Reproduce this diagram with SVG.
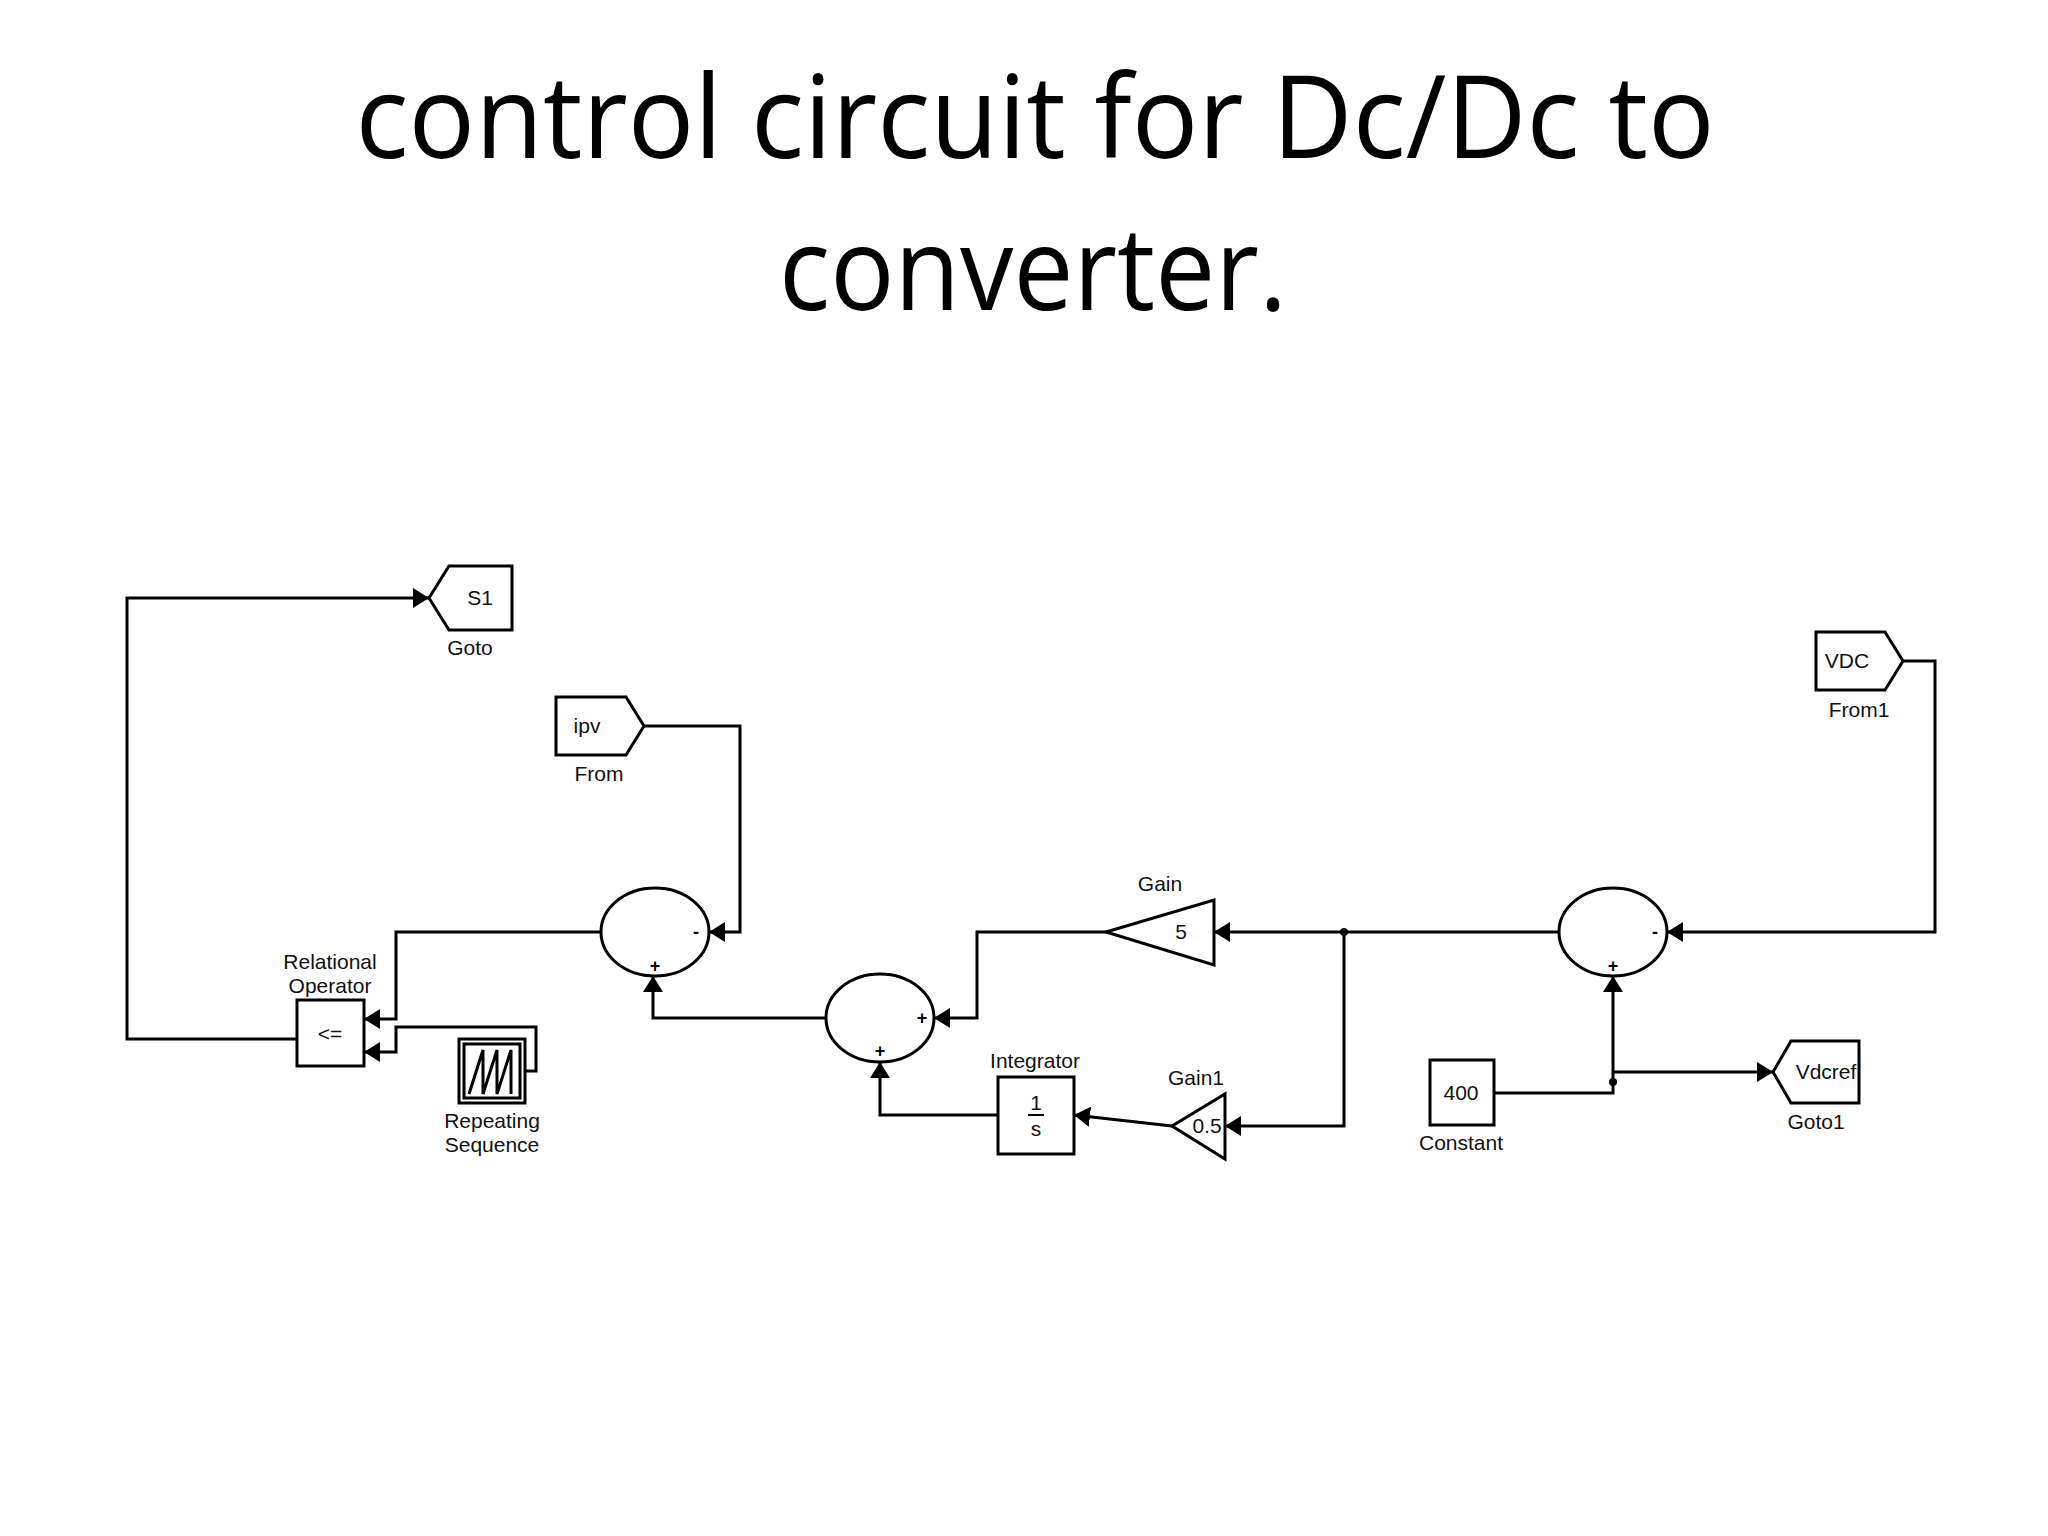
<svg xmlns="http://www.w3.org/2000/svg" width="2048" height="1536" viewBox="0 0 2048 1536">
<style>
.t{font-family:"Open Sans","Liberation Sans",sans-serif;font-size:116px;fill:#000}
.l{font-family:"Liberation Sans",Arial,sans-serif;font-size:21px;fill:#111;text-anchor:middle}
.b{fill:#fff;stroke:#000;stroke-width:3}
.w{fill:none;stroke:#000;stroke-width:3}
.s{font-family:"Liberation Sans",Arial,sans-serif;font-size:18px;font-weight:bold;text-anchor:middle;fill:#000}
</style>
<defs>
<marker id="a" markerUnits="userSpaceOnUse" markerWidth="18" markerHeight="20" refX="16" refY="10" orient="auto"><path d="M0,0 L16,10 L0,20 Z" fill="#000"/></marker>
</defs>
<rect width="2048" height="1536" fill="#fff"/>
<text class="t" x="1035" y="158" text-anchor="middle" textLength="1359" lengthAdjust="spacingAndGlyphs">control circuit for Dc/Dc to</text>
<text class="t" x="1033" y="310" text-anchor="middle" textLength="508" lengthAdjust="spacingAndGlyphs">converter.</text>
<g id="connectors">
<polyline class="w" points="297,1039 127,1039 127,598 429,598" marker-end="url(#a)"/>
<polyline class="w" points="644,726 740,726 740,932 709,932" marker-end="url(#a)"/>
<polyline class="w" points="601,932 396,932 396,1019 364,1019" marker-end="url(#a)"/>
<polyline class="w" points="525,1071 536,1071 536,1027 396,1027 396,1052 364,1052" marker-end="url(#a)"/>
<polyline class="w" points="826,1018 653,1018 653,976" marker-end="url(#a)"/>
<polyline class="w" points="1106,932 977,932 977,1018 934,1018" marker-end="url(#a)"/>
<polyline class="w" points="998,1115 880,1115 880,1062" marker-end="url(#a)"/>
<polyline class="w" points="1172,1126 1074,1115" marker-end="url(#a)"/>
<polyline class="w" points="1344,932 1344,1126 1225,1126" marker-end="url(#a)"/>
<polyline class="w" points="1559,932 1214,932" marker-end="url(#a)"/>
<polyline class="w" points="1903,661 1935,661 1935,932 1667,932" marker-end="url(#a)"/>
<polyline class="w" points="1494,1093 1613,1093 1613,976" marker-end="url(#a)"/>
<polyline class="w" points="1613,1072 1773,1072" marker-end="url(#a)"/>
<circle cx="1344" cy="932" r="4"/>
<circle cx="1613" cy="1082" r="4"/>
</g>
<g id="goto"><polygon class="b" points="429,598 449,566 512,566 512,630 449,630"/><text class="l" x="480" y="605">S1</text><text class="l" x="470" y="655">Goto</text></g>
<g id="from"><polygon class="b" points="556,697 626,697 644,726 626,755 556,755"/><text class="l" x="587" y="733">ipv</text><text class="l" x="599" y="781">From</text></g>
<g id="from1"><polygon class="b" points="1816,632 1885,632 1903,661 1885,690 1816,690"/><text class="l" x="1847" y="668">VDC</text><text class="l" x="1859" y="717">From1</text></g>
<g id="goto1"><polygon class="b" points="1773,1072 1791,1041 1859,1041 1859,1103 1791,1103"/><text class="l" x="1826" y="1079">Vdcref</text><text class="l" x="1816" y="1129">Goto1</text></g>
<g id="sum1"><ellipse class="b" cx="655" cy="932" rx="54" ry="44"/><text class="s" x="696" y="938">-</text><text class="s" x="655" y="972">+</text></g>
<g id="sum2"><ellipse class="b" cx="880" cy="1018" rx="54" ry="44"/><text class="s" x="922" y="1024">+</text><text class="s" x="880" y="1057">+</text></g>
<g id="sum3"><ellipse class="b" cx="1613" cy="932" rx="54" ry="44"/><text class="s" x="1655" y="938">-</text><text class="s" x="1613" y="972">+</text></g>
<g id="relop"><rect class="b" x="297" y="1000" width="67" height="66"/><text class="l" x="330" y="1041">&lt;=</text><text class="l" x="330" y="969">Relational</text><text class="l" x="330" y="993">Operator</text></g>
<g id="repseq"><rect class="b" x="459" y="1039" width="66" height="64"/><rect class="w" x="464" y="1044" width="56" height="54" stroke-width="2"/><polyline class="w" stroke-width="2" points="469,1094 483,1050 483,1094 497,1050 497,1094 511,1050 511,1094"/><text class="l" x="492" y="1128">Repeating</text><text class="l" x="492" y="1152">Sequence</text></g>
<g id="gain"><polygon class="b" points="1106,932 1214,900 1214,965"/><text class="l" x="1181" y="939">5</text><text class="l" x="1160" y="891">Gain</text></g>
<g id="gain1"><polygon class="b" points="1172,1126 1225,1094 1225,1159"/><text class="l" x="1207" y="1133">0.5</text><text class="l" x="1196" y="1085">Gain1</text></g>
<g id="integrator"><rect class="b" x="998" y="1077" width="76" height="77"/><text class="l" x="1036" y="1110">1</text><line x1="1028" y1="1115" x2="1044" y2="1115" stroke="#000" stroke-width="2"/><text class="l" x="1036" y="1136">s</text><text class="l" x="1035" y="1068">Integrator</text></g>
<g id="constant"><rect class="b" x="1430" y="1060" width="64" height="65"/><text class="l" x="1461" y="1100">400</text><text class="l" x="1461" y="1150">Constant</text></g>
</svg>
